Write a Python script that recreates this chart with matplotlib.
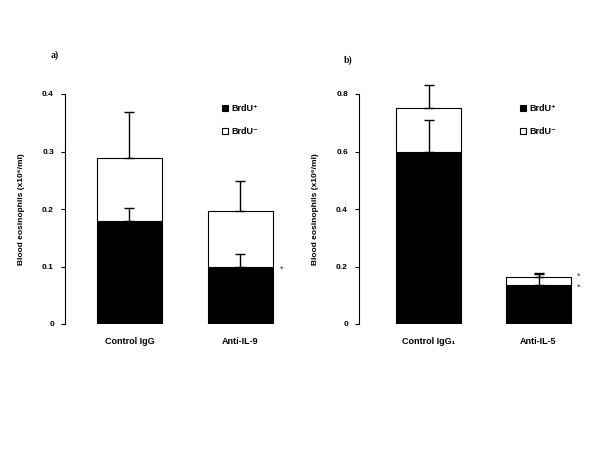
import numpy as np
import matplotlib
matplotlib.use("Agg")
import matplotlib.pyplot as plt

plt.rcParams['font.family'] = ['Liberation Sans', 'DejaVu Sans']
plt.rcParams['font.weight'] = 'bold'

# panel a
cats_a = ['Control IgG', 'Anti-IL-9']
pos_a = [0.180, 0.100]
tot_a = [0.288, 0.196]
err_pos_a = [0.022, 0.022]
err_tot_a = [0.080, 0.053]

# panel b
cats_b = ['Control IgG\u2081', 'Anti-IL-5']
pos_b = [0.597, 0.135]
tot_b = [0.753, 0.162]
err_pos_b = [0.113, 0.040]
err_tot_b = [0.080, 0.015]

fig = plt.figure(figsize=(6, 4.5), dpi=100)


def panel(rect, cats, pos, tot, epos, etot, ymax, ticks, xlim, width, tag, tagxy, stars, legx):
    ax = fig.add_axes(rect)
    x = np.arange(len(cats))
    neg = [t - p for t, p in zip(tot, pos)]
    ax.bar(x, pos, width, color='black', edgecolor='black', linewidth=0.8, label='BrdU\u207a')
    ax.bar(x, neg, width, bottom=pos, color='white', edgecolor='black', linewidth=0.8, label='BrdU\u207b')
    ax.errorbar(x, pos, yerr=[np.zeros(len(x)), epos], fmt='none', ecolor='black',
                elinewidth=1, capsize=3.5, capthick=1, clip_on=False)
    ax.errorbar(x, tot, yerr=[np.zeros(len(x)), etot], fmt='none', ecolor='black',
                elinewidth=1, capsize=3.5, capthick=1, clip_on=False)
    ax.set_xlim(*xlim)
    ax.set_ylim(0, ymax)
    ax.set_yticks(ticks)
    ax.set_yticklabels(['0'] + ['%g' % t for t in ticks[1:]], fontsize=6, fontweight='bold')
    ax.set_xticks(x)
    ax.set_xticklabels(cats, fontsize=6.5, fontweight='bold')
    ax.tick_params(axis='x', length=0, pad=9)
    ax.tick_params(axis='y', length=3, width=0.8, pad=5)
    for s in ['top', 'right', 'bottom']:
        ax.spines[s].set_visible(False)
    ax.spines['left'].set_linewidth(0.8)
    ax.set_ylabel('Blood eosinophils (x10\u2076/ml)', fontsize=6, fontweight='bold', labelpad=12)
    ax.legend(loc='upper left', bbox_to_anchor=(legx, 0.99), frameon=False,
              handlelength=0.7, handleheight=0.7, labelspacing=1.5, handletextpad=0.4,
              prop={'weight': 'bold', 'size': 6.5})
    fig.text(tagxy[0], tagxy[1], tag, family='Liberation Serif', fontweight='bold', fontsize=7)
    for sx, sy in stars:
        ax.text(sx, sy, '*', fontsize=6.5, fontweight='normal', color='#333333',
                ha='left', va='center')
    return ax


panel([65 / 600, 1 - 324 / 450, (290 - 65) / 600, 230 / 450], cats_a, pos_a, tot_a,
      err_pos_a, err_tot_a, 0.4, [0, 0.1, 0.2, 0.3, 0.4], (-0.581, 1.446), 0.586,
      'a)', (51 / 600, 1 - 58 / 450), [(1.35, 0.096)], 0.66)

panel([359 / 600, 1 - 324 / 450, (590 - 359) / 600, 230 / 450], cats_b, pos_b, tot_b,
      err_pos_b, err_tot_b, 0.8, [0, 0.2, 0.4, 0.6, 0.8], (-0.632, 1.468), 0.59,
      'b)', (344 / 600, 1 - 63 / 450), [(1.35, 0.165), (1.35, 0.128)], 0.66)

fig.savefig('out.png', dpi=100)
